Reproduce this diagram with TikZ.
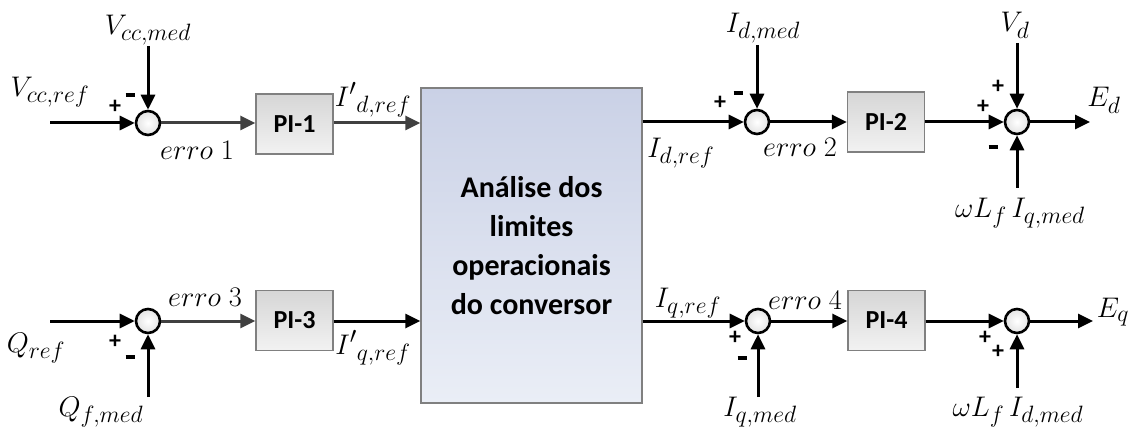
\documentclass[tikz,border=0pt]{standalone}
\usepackage{graphicx}
\usepackage{fontspec}
\setmainfont{Carlito}
\usetikzlibrary{arrows.meta}
\definecolor{linegray}{HTML}{404040}
\definecolor{boxedge}{HTML}{808080}
\definecolor{pitop}{HTML}{D6D6D6}
\definecolor{pibot}{HTML}{F2F2F2}
\definecolor{bigtop}{HTML}{CAD1E6}
\definecolor{bigbot}{HTML}{EAEEF6}
\newcommand{\mlab}[1]{\scalebox{1.14}{$#1$}}
\newcommand{\minussign}{\rule{9pt}{3.4pt}}
\tikzset{
  sumnode/.style={circle, draw=black, line width=2.6pt, minimum size=24pt, inner sep=0pt,
    inner color=white, outer color=gray!22},
  piblock/.style={rectangle, draw=boxedge, line width=1.3pt, top color=pitop, bottom color=pibot,
    minimum width=77pt, minimum height=60pt, inner sep=0pt, font=\fontsize{26}{28}\selectfont\bfseries},
  bigblock/.style={rectangle, draw=boxedge, line width=1.3pt, top color=bigtop, bottom color=bigbot,
    minimum width=221pt, minimum height=315pt, inner sep=0pt, align=center,
    font=\fontsize{30}{39}\selectfont\bfseries},
  sig/.style={-{Triangle[length=15pt,width=14pt]}, line width=3pt},
  sigg/.style={sig, draw=linegray, -{Triangle[length=15pt,width=14pt,fill=linegray]}},
  lbl/.style={inner sep=0pt, font=\fontsize{24.88}{28}\selectfont},
  sgn/.style={inner sep=0pt, font=\fontsize{24}{26}\selectfont\bfseries},
  msgn/.style={inner sep=0pt},
}
\begin{document}
\begin{tikzpicture}[x=1pt, y=-1pt]
\useasboundingbox (0,0) rectangle (1132,430);

% summing junctions
\node[sumnode] (s1) at (148,123) {};
\node[sumnode] (s2) at (757,122) {};
\node[sumnode] (s3) at (1017,122) {};
\node[sumnode] (s4) at (148,321) {};
\node[sumnode] (s5) at (758,321) {};
\node[sumnode] (s6) at (1017,321) {};

% controllers
\node[piblock] (pi1) at (294.5,124) {PI-1};
\node[piblock] (pi2) at (886,122) {PI-2};
\node[piblock] (pi3) at (294.5,320.5) {PI-3};
\node[piblock] (pi4) at (886.5,320.5) {PI-4};

% limit analysis block
\node[bigblock] (lim) at (531.5,245.5) {Análise dos\\limites\\operacionais\\do conversor};

% free ends of the external signals
\coordinate (vref) at (50,123);
\coordinate (vmed) at (148,46);
\coordinate (qref) at (50,321);
\coordinate (qmed) at (148,397);
\coordinate (idmed) at (757,45);
\coordinate (vd) at (1017,43);
\coordinate (wiq) at (1017,188);
\coordinate (ed) at (1090,122);
\coordinate (iqmed) at (758,397);
\coordinate (wid) at (1017,388);
\coordinate (eq) at (1093,321);

% d axis
\draw[sig] (vref) -- (s1);
\draw[sig] (vmed) -- (s1);
\draw[sigg] (s1) -- (pi1.west |- s1);
\draw[sigg] (pi1.east |- s1) -- (lim.west |- s1);
\draw[sig] (lim.east |- s2) -- (s2);
\draw[sig] (idmed) -- (s2);
\draw[sig] (s2) -- (pi2);
\draw[sig] (pi2) -- (s3);
\draw[sig] (vd) -- (s3);
\draw[sig] (wiq) -- (s3);
\draw[sig] (s3) -- (ed);

% q axis
\draw[sig] (qref) -- (s4);
\draw[sig] (qmed) -- (s4);
\draw[sigg] (s4) -- (pi3.west |- s4);
\draw[sig] (pi3.east |- s4) -- (lim.west |- s4);
\draw[sig] (lim.east |- s5) -- (s5);
\draw[sig] (iqmed) -- (s5);
\draw[sig] (s5) -- (pi4.west |- s5);
\draw[sig] (pi4.east |- s6) -- (s6);
\draw[sig] (wid) -- (s6);
\draw[sig] (s6) -- (eq);

% signal labels
\node[lbl] (lvmed) at (148,30) {\mlab{V_{cc,med}}};
\node[lbl] (lvref) at (50,92) {\mlab{V_{cc,ref}}};
\node[lbl] (le1) at (197,150) {\mlab{erro\;1}};
\node[lbl] (lidp) at (373,100) {\mlab{{I'}_{d,ref}}};
\node[lbl] (lidref) at (681,153) {\mlab{I_{d,ref}}};
\node[lbl] (lidmed) at (763,28) {\mlab{I_{d,med}}};
\node[lbl] (le2) at (800,147) {\mlab{erro\;2}};
\node[lbl] (lvd) at (1015,25) {\mlab{V_d}};
\node[lbl] (led) at (1104,100) {\mlab{E_d}};
\node[lbl] (lwiq) at (1020,213) {\mlab{\omega L_f\, I_{q,med}}};
\node[lbl] (lqref) at (36,348) {\mlab{Q_{ref}}};
\node[lbl] (lqmed) at (101,412) {\mlab{Q_{f,med}}};
\node[lbl] (le3) at (205,297) {\mlab{erro\;3}};
\node[lbl] (liqp) at (373,348) {\mlab{{I'}_{q,ref}}};
\node[lbl] (liqref) at (688,303) {\mlab{I_{q,ref}}};
\node[lbl] (le4) at (805,300) {\mlab{erro\;4}};
\node[lbl] (liqmed) at (760,412) {\mlab{I_{q,med}}};
\node[lbl] (leq) at (1113,312) {\mlab{E_q}};
\node[lbl] (lwid) at (1018,412) {\mlab{\omega L_f\, I_{d,med}}};

% signs at the junctions
\node[sgn] (p1) at (115,107) {+};
\node[msgn] (m1) at (130,95) {\minussign};
\node[sgn] (p2) at (720,103) {+};
\node[msgn] (m2) at (738,93) {\minussign};
\node[sgn] (p3a) at (998,87) {+};
\node[sgn] (p3b) at (983,107) {+};
\node[msgn] (m3) at (993,147) {\minussign};
\node[sgn] (p4) at (115,342) {+};
\node[msgn] (m4) at (130,357) {\minussign};
\node[sgn] (p5) at (735,338) {+};
\node[msgn] (m5) at (742,358) {\minussign};
\node[sgn] (p6a) at (985,338) {+};
\node[sgn] (p6b) at (998,352) {+};
\end{tikzpicture}
\end{document}
